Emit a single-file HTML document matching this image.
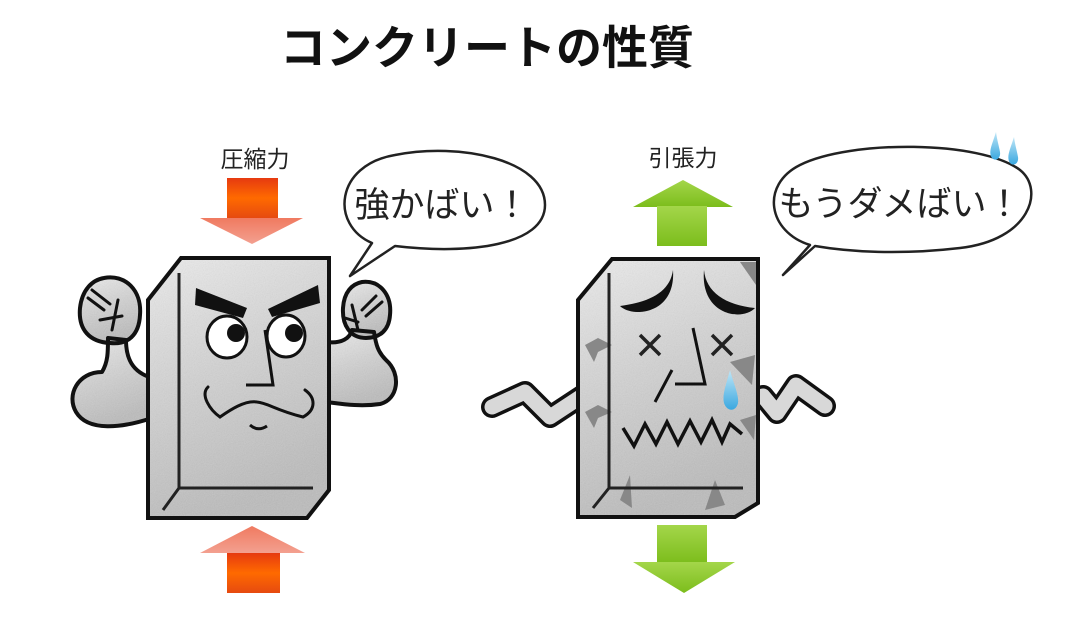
<!DOCTYPE html>
<html><head><meta charset="utf-8"><style>
html,body{margin:0;padding:0;background:#fff;}
svg{display:block;}
text{font-family:"Liberation Sans","Noto Sans CJK JP",sans-serif;}
</style></head><body>
<svg width="1066" height="624" viewBox="0 0 1066 624" xmlns="http://www.w3.org/2000/svg">
<defs>
<linearGradient id="g" x1="0" y1="0" x2="0.3" y2="1"><stop offset="0" stop-color="#ececec"/><stop offset="0.5" stop-color="#d2d2d2"/><stop offset="1" stop-color="#bcbcbc"/></linearGradient>
<linearGradient id="or" x1="0" y1="0" x2="0" y2="1"><stop offset="0" stop-color="#e63a10"/><stop offset="0.5" stop-color="#ff6a00"/><stop offset="1" stop-color="#e64a10"/></linearGradient>
<linearGradient id="orh" x1="0" y1="0" x2="0" y2="1"><stop offset="0" stop-color="#f07a60"/><stop offset="1" stop-color="#f3a090"/></linearGradient>
<linearGradient id="gr" x1="0" y1="0" x2="0" y2="1"><stop offset="0" stop-color="#a4d64a"/><stop offset="1" stop-color="#7cbd1c"/></linearGradient>
<linearGradient id="tear" x1="0" y1="0" x2="0" y2="1"><stop offset="0" stop-color="#bfe6f7"/><stop offset="1" stop-color="#3ba8e0"/></linearGradient>
<filter id="tx"><feTurbulence type="fractalNoise" baseFrequency="0.9" numOctaves="2" result="n"/><feColorMatrix type="saturate" values="0" in="n" result="m"/><feComponentTransfer in="m" result="k"><feFuncA type="table" tableValues="0 0.25"/></feComponentTransfer><feComposite in="k" in2="SourceGraphic" operator="in" result="c"/><feMerge><feMergeNode in="SourceGraphic"/><feMergeNode in="c"/></feMerge></filter>
</defs>

<text x="487" y="64" font-size="46" font-weight="bold" text-anchor="middle" fill="#111">コンクリートの性質</text>

<text x="255" y="167" font-size="23" text-anchor="middle" fill="#222">圧縮力</text>
<rect x="227" y="178" width="51" height="40" fill="url(#or)"/>
<polygon points="200,218 303,218 252,244" fill="url(#orh)"/>
<polygon points="252,526 305,553 200,553" fill="url(#orh)"/>
<rect x="227" y="553" width="53" height="40" fill="url(#or)"/>

<path d="M350,276 L372,243 C330,225 335,165 395,155 C460,142 545,160 545,205 C545,245 470,255 395,246 Z" fill="#fff" stroke="#222" stroke-width="2.5" stroke-linejoin="round"/>
<text x="442" y="217" font-size="35" text-anchor="middle" fill="#222">強かばい！</text>

<!-- left arms -->
<g id="la">
<path d="M152,378 C132,372 126,358 126,340 L108,338 C108,352 108,362 102,372 C78,372 66,395 76,412 C88,432 122,428 152,418 Z"/>
<path d="M104,278 C125,274 142,290 140,315 C139,335 128,345 110,343 C90,342 78,330 80,308 C82,290 92,280 104,278Z"/>
<path d="M326,342 C342,344 350,338 352,330 L374,332 C376,345 378,352 386,360 C402,374 398,400 380,404 C360,407 342,404 326,402 Z"/>
<path d="M362,282 C380,280 392,295 390,315 C389,330 380,338 366,338 C350,338 342,325 343,308 C344,292 352,284 362,282Z"/>
</g>
<use href="#la" fill="url(#g)" filter="url(#tx)"/>
<use href="#la" fill="none" stroke="#111" stroke-width="4" stroke-linejoin="round"/>
<g stroke="#111" stroke-width="3" fill="none" stroke-linecap="round">
<path d="M88,298 L104,310 M92,290 L110,304 M100,320 L122,316 M118,300 L112,330"/>
<path d="M376,296 L362,310 M382,302 L366,316 M358,322 L345,318 M352,305 L358,330"/>
</g>

<!-- left block -->
<polygon points="181,258 329,258 329,490 307,518 148,518 148,300" fill="url(#g)" filter="url(#tx)"/>
<polygon points="181,258 329,258 329,490 307,518 148,518 148,300" fill="none" stroke="#111" stroke-width="4"/>
<path d="M179,273 L179,488 L313,488 M179,488 L163,510" stroke="#222" stroke-width="3" fill="none"/>
<polygon points="196,288 195,305 243,318 247,308" fill="#111"/>
<polygon points="318,285 320,303 272,317 268,309" fill="#111"/>
<ellipse cx="227" cy="337" rx="20" ry="21" fill="#fff" stroke="#111" stroke-width="3"/>
<circle cx="236" cy="333" r="9" fill="#111"/>
<ellipse cx="286" cy="336" rx="19" ry="21" fill="#fff" stroke="#111" stroke-width="3"/>
<circle cx="294" cy="333" r="9" fill="#111"/>
<path d="M265,330 L273,385 L246,385" stroke="#111" stroke-width="3" fill="none"/>
<path d="M208,387 C200,395 210,410 220,417 C230,410 245,400 257,402 C268,403 275,410 303,417 C316,410 316,398 305,390" stroke="#111" stroke-width="3" fill="none" stroke-linecap="round"/>
<path d="M250,425 Q258,432 267,426" stroke="#111" stroke-width="3" fill="none"/>

<!-- right -->
<text x="683" y="166" font-size="23" text-anchor="middle" fill="#222">引張力</text>
<polygon points="683,180 733,207 633,207" fill="url(#gr)"/>
<rect x="657" y="206" width="50" height="40" fill="url(#gr)"/>
<rect x="657" y="525" width="50" height="38" fill="url(#gr)"/>
<polygon points="633,562 735,562 684,593" fill="url(#gr)"/>

<path d="M783,275 L810,245 C768,232 760,185 800,165 C850,140 980,140 1020,170 C1045,190 1030,240 960,248 C900,255 850,252 815,246 Z" fill="#fff" stroke="#222" stroke-width="2.5" stroke-linejoin="round"/>
<text x="900" y="216" font-size="35" text-anchor="middle" fill="#222">もうダメばい！</text>
<path d="M996,132 C992,145 988,152 992,158 C996,162 1001,158 1000,152 C999,146 997,140 996,132Z" fill="url(#tear)"/>
<path d="M1014,137 C1010,150 1006,157 1010,163 C1014,167 1019,163 1018,157 C1017,151 1015,145 1014,137Z" fill="url(#tear)"/>

<path d="M492,407 L525,392 L550,417 L588,392 M763,396 L777,413 L796,385 L825,406" stroke="#111" stroke-width="22" fill="none" stroke-linejoin="round" stroke-linecap="round"/>
<path d="M492,407 L525,392 L550,417 L588,392 M763,396 L777,413 L796,385 L825,406" stroke="#d8d8d8" stroke-width="15" fill="none" stroke-linejoin="round" stroke-linecap="round"/>

<polygon points="612,259 758,259 758,503 735,517 578,517 578,300" fill="url(#g)" filter="url(#tx)"/>
<g fill="#888">
<polygon points="585,345 598,338 612,345 598,352 594,362"/>
<polygon points="585,412 598,405 612,412 598,418 594,428"/>
<polygon points="730,362 755,355 752,385"/>
<polygon points="740,420 756,415 754,440"/>
<polygon points="620,500 630,475 632,508"/>
<polygon points="715,480 725,505 705,510"/>
<polygon points="740,262 756,262 756,285"/>
</g>
<polygon points="612,259 758,259 758,503 735,517 578,517 578,300" fill="none" stroke="#111" stroke-width="4"/>
<path d="M609,273 L609,488 L743,488 M609,488 L593,508" stroke="#222" stroke-width="3" fill="none"/>
<path d="M673,270 C670,292 650,302 620,306 C632,318 676,315 673,270Z" fill="#111"/>
<path d="M704,270 C706,292 725,305 755,308 C742,322 700,315 704,270Z" fill="#111"/>
<path d="M640,335 L660,355 M660,335 L640,355 M712,335 L732,355 M732,335 L712,355" stroke="#222" stroke-width="3.5"/>
<path d="M693,328 L705,384 L675,384 M672,370 L655,402" stroke="#111" stroke-width="3" fill="none"/>
<path d="M730,370 C726,385 722,395 724,403 C727,412 736,412 738,403 C739,395 734,385 730,370Z" fill="url(#tear)"/>
<path d="M623,428 L634,446 L645,424 L656,444 L667,422 L678,444 L690,421 L701,442 L712,420 L722,442 L730,424 L742,434" stroke="#111" stroke-width="3.5" fill="none" stroke-linejoin="miter"/>
</svg>
</body></html>
